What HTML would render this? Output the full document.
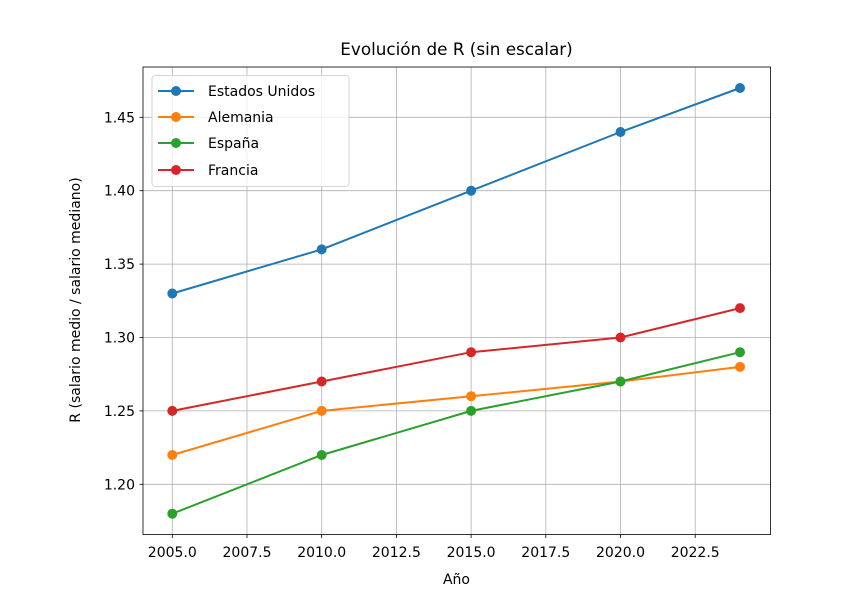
<!DOCTYPE html>
<html><head><meta charset="utf-8"><style>
body{margin:0;background:#fff}
svg{display:block;font-family:"DejaVu Sans","Liberation Sans",sans-serif}
</style></head><body>
<svg width="848" height="600" viewBox="0 0 848 600" xmlns="http://www.w3.org/2000/svg">
<rect width="848" height="600" fill="#fff"/>
<g stroke="#b0b0b0" stroke-width="0.8">
<line x1="172.3" y1="67" x2="172.3" y2="534.5"/>
<line x1="247" y1="67" x2="247" y2="534.5"/>
<line x1="321.7" y1="67" x2="321.7" y2="534.5"/>
<line x1="396.4" y1="67" x2="396.4" y2="534.5"/>
<line x1="471.1" y1="67" x2="471.1" y2="534.5"/>
<line x1="545.8" y1="67" x2="545.8" y2="534.5"/>
<line x1="620.5" y1="67" x2="620.5" y2="534.5"/>
<line x1="695.2" y1="67" x2="695.2" y2="534.5"/>
<line x1="143" y1="117.3" x2="770.5" y2="117.3"/>
<line x1="143" y1="190.7" x2="770.5" y2="190.7"/>
<line x1="143" y1="264.1" x2="770.5" y2="264.1"/>
<line x1="143" y1="337.5" x2="770.5" y2="337.5"/>
<line x1="143" y1="410.9" x2="770.5" y2="410.9"/>
<line x1="143" y1="484.3" x2="770.5" y2="484.3"/>
</g>
<rect x="143" y="67" width="627.5" height="467.5" fill="none" stroke="#000" stroke-width="0.8"/>
<g stroke="#000" stroke-width="0.8">
<line x1="172.3" y1="534.5" x2="172.3" y2="538"/><line x1="247" y1="534.5" x2="247" y2="538"/><line x1="321.7" y1="534.5" x2="321.7" y2="538"/><line x1="396.4" y1="534.5" x2="396.4" y2="538"/><line x1="471.1" y1="534.5" x2="471.1" y2="538"/><line x1="545.8" y1="534.5" x2="545.8" y2="538"/><line x1="620.5" y1="534.5" x2="620.5" y2="538"/><line x1="695.2" y1="534.5" x2="695.2" y2="538"/>
<line x1="139.5" y1="117.3" x2="143" y2="117.3"/><line x1="139.5" y1="190.7" x2="143" y2="190.7"/><line x1="139.5" y1="264.1" x2="143" y2="264.1"/><line x1="139.5" y1="337.5" x2="143" y2="337.5"/><line x1="139.5" y1="410.9" x2="143" y2="410.9"/><line x1="139.5" y1="484.3" x2="143" y2="484.3"/>
</g>
<g font-size="14" fill="#000" text-anchor="middle">
<text x="172.3" y="557">2005.0</text><text x="247" y="557">2007.5</text><text x="321.7" y="557">2010.0</text><text x="396.4" y="557">2012.5</text><text x="471.1" y="557">2015.0</text><text x="545.8" y="557">2017.5</text><text x="620.5" y="557">2020.0</text><text x="695.2" y="557">2022.5</text>
<text x="456.5" y="584">Año</text>
<text x="456.5" y="55" font-size="16.8">Evolución de R (sin escalar)</text>
<text transform="translate(80,300) rotate(-90)">R (salario medio / salario mediano)</text>
</g>
<g font-size="14" fill="#000" text-anchor="end">
<text x="135" y="122.3">1.45</text><text x="135" y="195.7">1.40</text><text x="135" y="269.1">1.35</text><text x="135" y="342.5">1.30</text><text x="135" y="415.9">1.25</text><text x="135" y="489.3">1.20</text>
</g>
<g stroke-width="2" fill="none">
<polyline stroke="#1f77b4" points="172.3,293.5 321.7,249.4 471.1,190.7 620.5,132 740,88"/>
<polyline stroke="#ff7f0e" points="172.3,455 321.7,410.9 471.1,396.2 620.5,381.5 740,366.9"/>
<polyline stroke="#2ca02c" points="172.3,513.7 321.7,455 471.1,410.9 620.5,381.5 740,352.2"/>
<polyline stroke="#d62728" points="172.3,410.9 321.7,381.5 471.1,352.2 620.5,337.5 740,308.1"/>
</g>
<g fill="#1f77b4"><circle cx="172.3" cy="293.5" r="5"/><circle cx="321.7" cy="249.4" r="5"/><circle cx="471.1" cy="190.7" r="5"/><circle cx="620.5" cy="132" r="5"/><circle cx="740" cy="88" r="5"/></g>
<g fill="#ff7f0e"><circle cx="172.3" cy="455" r="5"/><circle cx="321.7" cy="410.9" r="5"/><circle cx="471.1" cy="396.2" r="5"/><circle cx="620.5" cy="381.5" r="5"/><circle cx="740" cy="366.9" r="5"/></g>
<g fill="#2ca02c"><circle cx="172.3" cy="513.7" r="5"/><circle cx="321.7" cy="455" r="5"/><circle cx="471.1" cy="410.9" r="5"/><circle cx="620.5" cy="381.5" r="5"/><circle cx="740" cy="352.2" r="5"/></g>
<g fill="#d62728"><circle cx="172.3" cy="410.9" r="5"/><circle cx="321.7" cy="381.5" r="5"/><circle cx="471.1" cy="352.2" r="5"/><circle cx="620.5" cy="337.5" r="5"/><circle cx="740" cy="308.1" r="5"/></g>
<rect x="152" y="75.5" width="197" height="111" rx="3" fill="#fff" fill-opacity="0.8" stroke="#ccc" stroke-width="0.8"/>
<g stroke-width="2">
<line x1="158" y1="91" x2="194" y2="91" stroke="#1f77b4"/><circle cx="176" cy="91" r="5" fill="#1f77b4"/>
<line x1="158" y1="117" x2="194" y2="117" stroke="#ff7f0e"/><circle cx="176" cy="117" r="5" fill="#ff7f0e"/>
<line x1="158" y1="143" x2="194" y2="143" stroke="#2ca02c"/><circle cx="176" cy="143" r="5" fill="#2ca02c"/>
<line x1="158" y1="170" x2="194" y2="170" stroke="#d62728"/><circle cx="176" cy="170" r="5" fill="#d62728"/>
</g>
<g font-size="14" fill="#000">
<text x="208" y="96">Estados Unidos</text><text x="208" y="122">Alemania</text><text x="208" y="148">España</text><text x="208" y="175">Francia</text>
</g>
</svg>
</body></html>
